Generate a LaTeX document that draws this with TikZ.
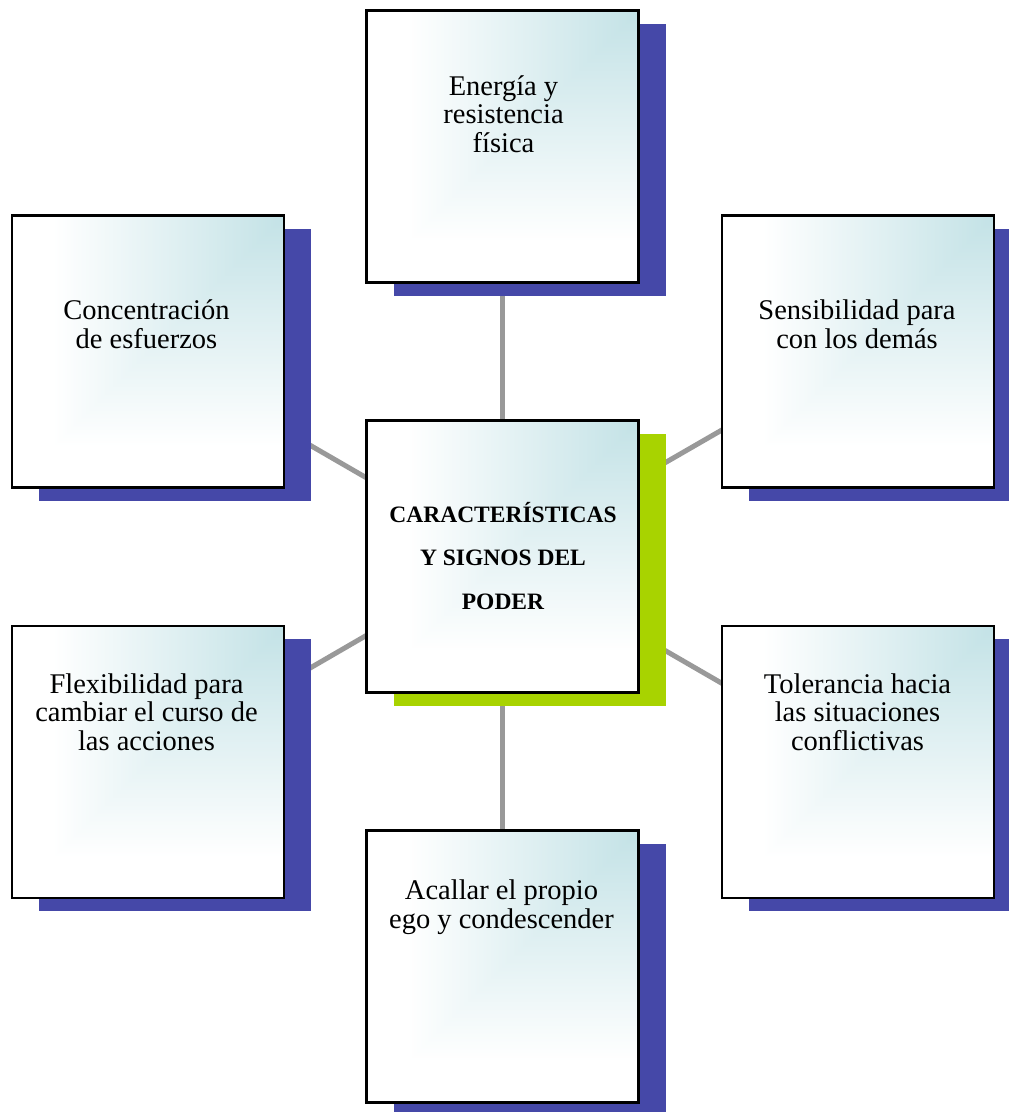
\documentclass[tikz,border=0pt]{standalone}
\usepackage{fontspec}
\setmainfont{Liberation Serif}
\usetikzlibrary{shadows,backgrounds}
\definecolor{shblue}{HTML}{4548A8}
\definecolor{shgreen}{HTML}{A8D300}
\definecolor{linegray}{HTML}{999999}
\pgfdeclarefunctionalshading{cornershade}{\pgfpoint{0bp}{0bp}}{\pgfpoint{100bp}{100bp}}{}{
75 exch sub 50 div
exch 75 exch sub 50 div
2 copy lt {exch} if pop
dup 0 lt {pop 0} if
0.85 div dup 1 gt {pop 1} if
dup 60 mul 195 add 255 div exch
dup 29 mul 226 add 255 div exch
25 mul 230 add 255 div
}
\tikzset{
  box/.style={draw=black, line width=2.4pt, minimum width=272pt, minimum height=272pt,
    inner sep=0pt, shading=cornershade,
    general shadow={shadow xshift=27pt, shadow yshift=-13pt, fill=#1}},
  box/.default=shblue,
  conn/.style={draw=linegray, line width=5pt},
  txt/.style={anchor=base, align=center, inner sep=0pt,
    font=\fontsize{28.5pt}{28.5pt}\selectfont},
  ctxt/.style={anchor=base, align=center, inner sep=0pt,
    font=\fontsize{23.5pt}{43.5pt}\selectfont\bfseries}
}
\begin{document}
\begin{tikzpicture}[x=1pt,y=-1pt]
\useasboundingbox (0,0) rectangle (1009,1112);
\node[box] (top) at (502.5,146.5) {};
\node[box] (lt) at (148,351.5) {};
\node[box] (rt) at (858,351.5) {};
\node[box=shgreen] (c) at (502.5,556.5) {};
\node[box] (lb) at (148,762) {};
\node[box] (rb) at (858,762) {};
\node[box] (bot) at (502.5,966.5) {};
\begin{pgfonlayer}{background}
\draw[conn] (c.center) -- (top.center);
\draw[conn] (c.center) -- (lt.center);
\draw[conn] (c.center) -- (rt.center);
\draw[conn] (c.center) -- (lb.center);
\draw[conn] (c.center) -- (rb.center);
\draw[conn] (c.center) -- (bot.center);
\end{pgfonlayer}
\node[txt] (ttop) at (503.5,152) {Energía y\\resistencia\\física};
\node[txt] (tlt) at (146.5,348) {Concentración\\de esfuerzos};
\node[txt] (trt) at (857,348) {Sensibilidad para\\con los demás};
\node[ctxt] (tc) at (503,609) {CARACTERÍSTICAS\\Y SIGNOS DEL\\PODER};
\node[txt] (tlb) at (146.5,750) {Flexibilidad para\\cambiar el curso de\\las acciones};
\node[txt] (trb) at (857.5,750) {Tolerancia hacia\\las situaciones\\conflictivas};
\node[txt] (tbot) at (501.5,928) {Acallar el propio\\ego y condescender};
\end{tikzpicture}
\end{document}
